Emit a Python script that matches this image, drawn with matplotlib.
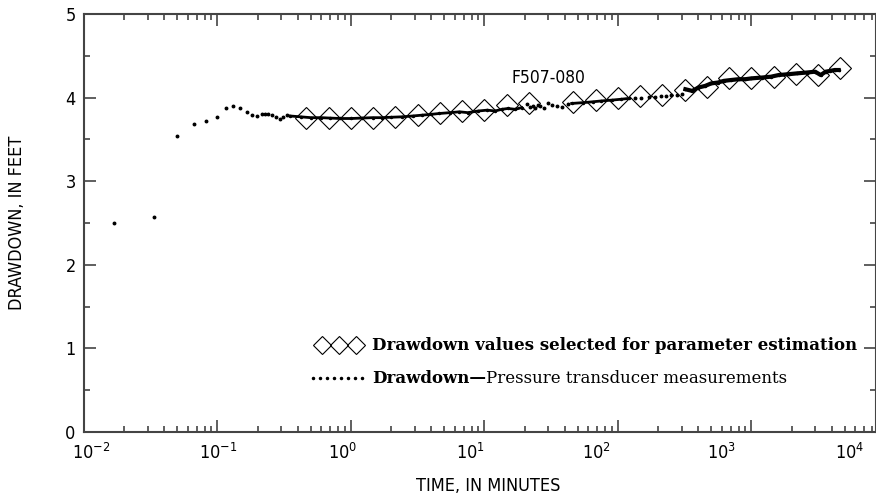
import numpy as np
import matplotlib
matplotlib.use("Agg")
import matplotlib.pyplot as plt
from matplotlib.ticker import LogLocator, MultipleLocator, NullFormatter

plt.rcParams['font.family'] = ['DejaVu Sans']
plt.rcParams['font.stretch'] = 'condensed'
plt.rcParams['mathtext.fontset'] = 'custom'
plt.rcParams['mathtext.rm'] = 'DejaVu Sans:stretch=condensed'
plt.rcParams['mathtext.it'] = 'DejaVu Sans:stretch=condensed'

# early, sparse transducer readings (minutes, feet)
t_early = [0.0168, 0.0334, 0.0498, 0.0667, 0.082, 0.0996, 0.116, 0.131, 0.147,
           0.166, 0.181, 0.198, 0.215, 0.227, 0.239, 0.256, 0.274, 0.294, 0.31, 0.33]
dd_early = [2.50, 2.57, 3.54, 3.68, 3.72, 3.77, 3.88, 3.90, 3.88,
            3.83, 3.79, 3.78, 3.80, 3.80, 3.80, 3.79, 3.77, 3.74, 3.77, 3.79]

# dense transducer record
t_meas = [0.35, 0.42, 0.5, 0.6, 0.7, 0.83, 1.0, 1.2, 1.45, 1.7, 2.0, 2.4, 2.9,
          3.4, 4.0, 4.6, 5.5, 6.5, 7.5, 9.0, 10.5, 12.0, 13.5, 15.0, 17.0, 19.0]
dd_meas = [3.78, 3.77, 3.76, 3.76, 3.755, 3.75, 3.75, 3.755, 3.76, 3.76, 3.765, 3.77, 3.78,
           3.79, 3.80, 3.81, 3.82, 3.83, 3.82, 3.84, 3.85, 3.84, 3.86, 3.87, 3.86, 3.88]

t_meas2 = [45, 55, 65, 75, 90, 105, 120]
dd_meas2 = [3.93, 3.94, 3.95, 3.96, 3.97, 3.98, 3.99]

t_meas3 = [320, 360, 400, 450, 500, 560, 620, 700, 800, 900, 1000, 1200, 1400,
           1600, 1900, 2200, 2600, 3000, 3300, 3600, 3900, 4200, 4500]
dd_meas3 = [4.10, 4.08, 4.12, 4.14, 4.17, 4.18, 4.20, 4.21, 4.22, 4.22, 4.23, 4.24, 4.25,
            4.27, 4.28, 4.29, 4.30, 4.31, 4.27, 4.31, 4.32, 4.33, 4.33]

# scattered readings between the dense stretches
t_scat = [21, 22, 23, 24, 25, 26, 28, 30, 32, 35, 38, 42,
          135, 150, 170, 190, 210, 230, 250, 275, 300]
dd_scat = [3.92, 3.89, 3.90, 3.88, 3.91, 3.90, 3.87, 3.93, 3.91, 3.90, 3.89, 3.92,
           4.00, 4.00, 4.01, 4.01, 4.02, 4.02, 4.03, 4.03, 4.04]

# values selected for parameter estimation
t_sel = [0.46, 0.68, 1.0, 1.47, 2.15, 3.16, 4.64, 6.81, 10, 14.7, 21.5,
         46.4, 68.1, 100, 147, 215, 316, 464, 681, 1000, 1470, 2150, 3160, 4640]
dd_sel = [3.75, 3.75, 3.75, 3.75, 3.77, 3.79, 3.81, 3.84, 3.85, 3.91, 3.93,
          3.95, 3.97, 4.00, 4.02, 4.03, 4.09, 4.13, 4.23, 4.23, 4.25, 4.28, 4.27, 4.35]

xtick_labels = ['$10^{-2}$', '$10^{-1}$', '$10^{0}$', '$10^{1}$', '$10^{2}$', '$10^{3}$', '$10^{4}$']

fig = plt.figure(figsize=(8.76, 5.03), dpi=100)
ax = fig.add_axes([84 / 876, 71 / 503, 792 / 876, 418 / 503])
ax.set_xscale('log')
ax.set_xlim(1e-2, 10 ** 3.933)
ax.set_ylim(0, 5)

ax.plot(t_early, dd_early, ls='none', marker='o', ms=1.8, color='black')
ax.plot(t_meas, dd_meas, color='black', lw=2.0, marker='o', ms=1.5)
ax.plot(t_meas2, dd_meas2, color='black', lw=2.0, marker='o', ms=1.5)
ax.plot(t_meas3, dd_meas3, color='black', lw=3.0, marker='o', ms=1.5)
ax.plot(t_scat, dd_scat, ls='none', marker='o', ms=1.8, color='black')
ax.plot(t_sel, dd_sel, ls='none', marker='D', ms=11.3, mfc='none', mec='black', mew=0.8)

ax.text(30, 4.24, 'F507-080', fontsize=12.5, ha='center', va='center')

# ticks
ax.xaxis.set_major_locator(LogLocator(base=10, numticks=20))
ax.xaxis.set_minor_locator(LogLocator(base=10, subs=np.arange(2, 10), numticks=20))
ax.xaxis.set_major_formatter(NullFormatter())
ax.xaxis.set_minor_formatter(NullFormatter())
ax.yaxis.set_major_locator(MultipleLocator(1))
ax.yaxis.set_minor_locator(MultipleLocator(0.5))
ax.tick_params(which='both', direction='in', top=True, right=True, color='#444444', width=1.2)
ax.tick_params(which='major', length=8.6, labelsize=13, pad=6)
ax.tick_params(which='minor', length=4.3)
for s in ax.spines.values():
    s.set_color('#444444')
    s.set_linewidth(1.5)

# x tick labels sit where the original layout put them
xlab_px = [91, 218, 343, 470, 596, 722, 850]
for px, lab in zip(xlab_px, xtick_labels):
    ax.text((px - 84) / 792, -0.025, lab, transform=ax.transAxes, ha='center', va='top', fontsize=13)

ax.text((488 - 84) / 792, -0.108, 'TIME, IN MINUTES', transform=ax.transAxes,
        ha='center', va='top', fontsize=13)
ax.set_ylabel('DRAWDOWN, IN FEET', fontsize=13, labelpad=28)

# legend
ax.plot([0.300, 0.322, 0.343], [0.208] * 3, transform=ax.transAxes, ls='none', marker='D',
        ms=8.7, mfc='none', mec='black', mew=0.8, clip_on=False)
ax.text(0.364, 0.208, 'Drawdown values selected for parameter estimation', transform=ax.transAxes,
        va='center', ha='left', fontsize=12, family='DejaVu Serif', stretch='normal', weight='bold')
ax.plot(np.linspace(0.289, 0.351, 8), [0.129] * 8, transform=ax.transAxes, ls='none',
        marker='o', ms=1.5, color='black')
t1 = ax.text(0.364, 0.129, 'Drawdown\u2014', transform=ax.transAxes, va='center', ha='left',
             fontsize=12, family='DejaVu Serif', stretch='normal', weight='bold')
ax.annotate('Pressure transducer measurements', xy=(1, 0), xycoords=t1, va='bottom', ha='left',
            fontsize=12, family='DejaVu Serif', stretch='normal')

fig.savefig('out.png', dpi=100)
